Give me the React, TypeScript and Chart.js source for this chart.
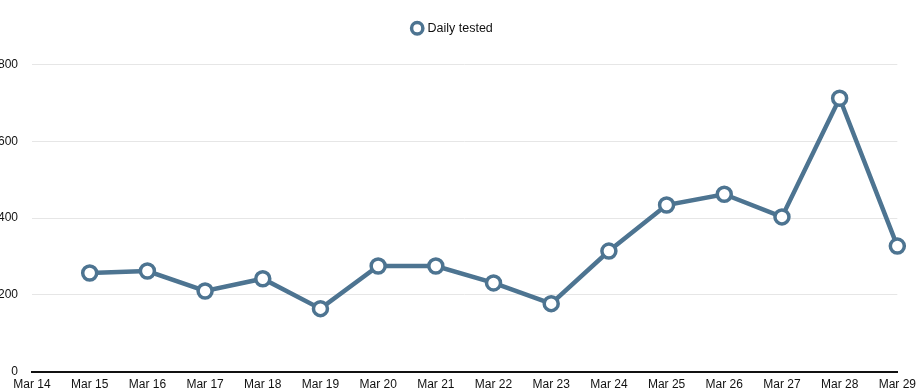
import React, { useEffect, useRef } from "react";
import { Chart, registerables } from "chart.js";

Chart.register(...registerables);

const labels = ["Mar 14", "Mar 15", "Mar 16", "Mar 17", "Mar 18", "Mar 19", "Mar 20", "Mar 21", "Mar 22", "Mar 23", "Mar 24", "Mar 25", "Mar 26", "Mar 27", "Mar 28", "Mar 29"];
const dailyTested: (number | null)[] = [null, 257, 262, 210, 242, 164, 275, 275, 231, 177, 314, 434, 462, 403, 712, 327];
const seriesName = "Daily tested";
const yTicks = [0, 200, 400, 600, 800];

const LINE = "rgb(77,116,145)";

const legendSpacer = {
  id: "legendSpacer",
  beforeInit(chart: any) {
    const legend = chart.legend;
    if (!legend) return;
    const orig = legend.fit;
    legend.fit = function () {
      orig.call(this);
      this.height += 20;
    };
  },
};

export default function App() {
  const ref = useRef<HTMLCanvasElement | null>(null);
  useEffect(() => {
    if (!ref.current) return;
    Chart.defaults.font.family = '"Liberation Sans", Arial, Helvetica, sans-serif';
    Chart.defaults.font.size = 12;
    Chart.defaults.color = "#111";
    const chart = new Chart(ref.current, {
      type: "line",
      data: {
        labels,
        datasets: [
          {
            label: seriesName,
            data: dailyTested,
            borderColor: LINE,
            backgroundColor: "#fff",
            borderWidth: 4.5,
            pointRadius: 7,
            pointHoverRadius: 7,
            pointBorderWidth: 3.5,
            pointBackgroundColor: "#fff",
            pointBorderColor: LINE,
            tension: 0,
            spanGaps: false,
          },
        ],
      },
      options: {
        responsive: false,
        animation: false,
        layout: { padding: { top: 12, left: 0, right: 0, bottom: 0 } },
        plugins: {
          legend: {
            display: true,
            position: "top",
            labels: {
              usePointStyle: true,
              pointStyle: "circle",
              boxWidth: 8,
              boxHeight: 8,
              padding: 10,
              color: "#111",
              font: { size: 12.5 },
            },
          },
          tooltip: { enabled: false },
        },
        scales: {
          x: {
            grid: { display: false, drawTicks: false },
            border: { display: true, color: "#111", width: 2 },
            ticks: { padding: 6, maxRotation: 0, autoSkip: false, color: "#111" },
          },
          y: {
            min: 0,
            max: 800,
            afterBuildTicks(axis: any) {
              axis.ticks = yTicks.map((v) => ({ value: v }));
            },
            grid: { color: "#e6e6e6", drawTicks: false, lineWidth: 1 },
            border: { display: false },
            ticks: { padding: 14, color: "#111" },
          },
        },
      },
      plugins: [legendSpacer],
    } as any);
    return () => chart.destroy();
  }, []);
  return (
    <div style={{ position: "fixed", left: -16, top: 0, width: 938, height: 398 }}>
      <canvas ref={ref} width={938} height={398} style={{ display: "block" }} />
    </div>
  );
}
